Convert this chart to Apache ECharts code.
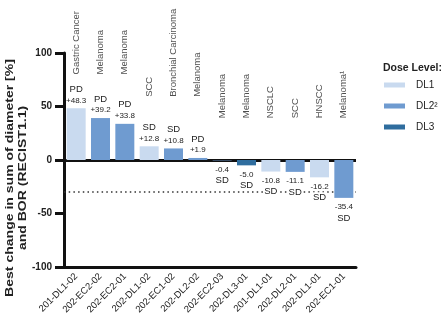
<!DOCTYPE html>
<html>
<head>
<meta charset="utf-8">
<script src="https://cdn.jsdelivr.net/npm/echarts@6/dist/echarts.min.js"></script>
<style>
html,body{margin:0;padding:0;background:#fff;}
#chart{width:445px;height:327px;}
</style>
</head>
<body>
<div id="chart"></div>
<script>
const categories = ['201-DL1-02','202-EC2-02','202-EC2-01','202-DL1-02','202-EC1-02','202-DL2-02','202-EC2-03','202-DL3-01','201-DL1-01','202-DL2-01','202-DL1-01','202-EC1-01'];
const changes = [48.3, 39.2, 33.8, 12.8, 10.8, 1.9, -0.4, -5.0, -10.8, -11.1, -16.2, -35.4];
const bor = ['PD','PD','PD','SD','SD','PD','SD','SD','SD','SD','SD','SD'];
const doseLevels = ['DL1','DL2','DL2','DL1','DL2','DL2','DL2','DL3','DL1','DL2','DL1','DL2'];
const diagnoses = ['Gastric Cancer','Melanoma','Melanoma','SCC','Bronchial Carcinoma','Melanoma','Melanoma','Melanoma','NSCLC','SCC','HNSCC','Melanoma¹'];
const levelNames = ['DL1','DL2','DL3'];
const levelLegend = ['DL1','DL2²','DL3'];
const yTicks = [-100, -50, 0, 50, 100];
const responseThreshold = -30;

const levelColors = {DL1:'#c9daef', DL2:'#6f9bd0', DL3:'#2f6d9e'};
const FONT = 'Liberation Sans, Arial, sans-serif';
const NARROW = 'Liberation Sans Narrow, Liberation Sans, Arial, sans-serif';

function fmtVal(v){ return (v > 0 ? '+' : '') + v.toFixed(1); }

const barSeries = levelNames.map((lvl, k) => ({
  name: levelLegend[k],
  type: 'bar',
  barWidth: 19,
  barGap: '-100%',
  itemStyle: {color: levelColors[lvl]},
  data: changes.map((v, i) => {
    if (doseLevels[i] !== lvl) return '-';
    const pos = v >= 0;
    return {
      value: v,
      label: {
        show: true,
        position: pos ? 'top' : 'bottom',
        distance: pos ? 3 : 4,
        fontFamily: NARROW,
        lineHeight: 11,
        formatter: pos ? '{b|' + bor[i] + '}\n{v|' + fmtVal(v) + '}' : '{v|' + fmtVal(v) + '}\n{b|' + bor[i] + '}',
        rich: {
          b: {fontSize: 9.5, color: '#222', fontFamily: NARROW, lineHeight: 12, backgroundColor: '#fff', padding: [0, 1]},
          v: {fontSize: 8, color: '#222', fontFamily: NARROW, lineHeight: 10}
        }
      }
    };
  })
}));

barSeries[0].markLine = {
  silent: true,
  symbol: 'none',
  label: {show: false},
  z: 1,
  data: [
    {yAxis: 0, lineStyle: {color: '#111', width: 3, type: 'solid'}},
    {yAxis: responseThreshold, lineStyle: {color: '#333', width: 1.5, type: [1.5, 3.2]}}
  ]
};

function diagnosisAnchor(v){ return v > 30 ? 80 : (v > 0 ? 59 : 39); }

const diagSeries = {
  type: 'scatter',
  symbolSize: 0,
  silent: true,
  z: 5,
  data: diagnoses.map((d, i) => ({
    value: [i, diagnosisAnchor(changes[i])],
    label: {formatter: d}
  })),
  label: {
    show: true,
    position: 'inside',
    rotate: 90,
    align: 'left',
    verticalAlign: 'middle',
    fontSize: 9.5,
    fontFamily: NARROW,
    color: '#222'
  }
};

const chart = echarts.init(document.getElementById('chart'), null, {renderer: 'canvas'});
chart.setOption({
  animation: false,
  backgroundColor: '#fff',
  textStyle: {fontFamily: FONT},
  grid: {left: 64, right: 89, top: 53, bottom: 60},
  title: {
    text: 'Dose Level:',
    left: 383, top: 63,
    padding: 0,
    textStyle: {fontSize: 10.5, fontWeight: 'bold', color: '#222', fontFamily: FONT}
  },
  legend: {
    orient: 'vertical',
    left: 384, top: 80,
    padding: 0,
    itemWidth: 21, itemHeight: 5, itemGap: 11,
    icon: 'rect',
    data: levelLegend,
    textStyle: {fontSize: 10, color: '#222', fontFamily: FONT, padding: [0, 0, 0, 6]}
  },
  xAxis: {
    type: 'category',
    data: categories,
    position: 'bottom',
    axisLine: {onZero: false, lineStyle: {color: '#111', width: 3}},
    axisTick: {alignWithLabel: true, length: 6, lineStyle: {color: '#111', width: 3}},
    axisLabel: {rotate: 45, fontSize: 9.5, color: '#222', margin: 8, interval: 0, fontFamily: FONT},
    splitLine: {show: false}
  },
  yAxis: {
    type: 'value',
    min: yTicks[0], max: yTicks[yTicks.length - 1], interval: 50,
    axisLine: {show: true, lineStyle: {color: '#111', width: 3}},
    axisTick: {show: true, inside: false, length: 9, lineStyle: {color: '#111', width: 3}},
    axisLabel: {fontSize: 10, fontWeight: 'bold', color: '#222', margin: 12, fontFamily: FONT},
    splitLine: {show: false}
  },
  graphic: [
    {type: 'text', x: 10, y: 178, rotation: Math.PI / 2, scaleX: 1.22, scaleY: 1,
     style: {text: 'Best change in sum of diameter [%]', font: 'bold 11.5px Liberation Sans, Arial, sans-serif', fill: '#222', textAlign: 'center', textVerticalAlign: 'middle'}},
    {type: 'text', x: 23, y: 178, rotation: Math.PI / 2, scaleX: 1.22, scaleY: 1,
     style: {text: 'and BOR (RECIST1.1)', font: 'bold 11.5px Liberation Sans, Arial, sans-serif', fill: '#222', textAlign: 'center', textVerticalAlign: 'middle'}}
  ],
  series: barSeries.concat([diagSeries])
});
</script>
</body>
</html>
